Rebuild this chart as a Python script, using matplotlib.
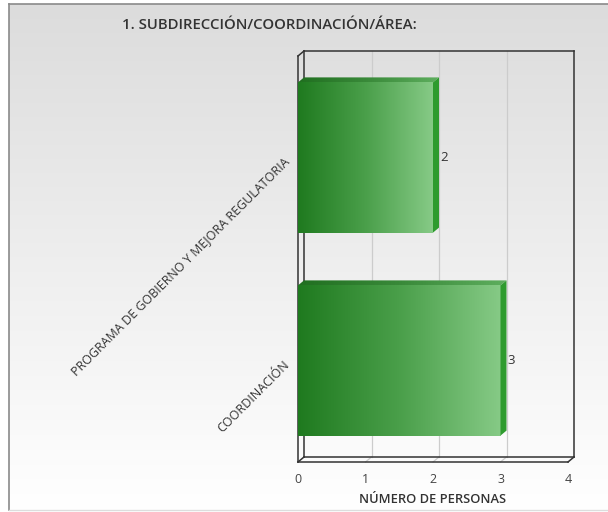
import matplotlib
matplotlib.use('Agg')
import matplotlib.pyplot as plt
import numpy as np
from matplotlib.patches import Polygon
from matplotlib.colors import LinearSegmentedColormap

# ---- data ----
categories = ["COORDINACIÓN", "PROGRAMA DE GOBIERNO Y MEJORA REGULATORIA"]
values = [3, 2]
x_ticks = [0, 1, 2, 3, 4]
title = "1. SUBDIRECCIÓN/COORDINACIÓN/ÁREA:"
xlabel = "NÚMERO DE PERSONAS"

plt.rcParams['font.family'] = ['Open Sans', 'DejaVu Sans']

W, H = 608, 512
fig = plt.figure(figsize=(W / 100, H / 100), dpi=100)
fig.patch.set_facecolor('white')

# background panel with vertical gradient
bg = fig.add_axes([0, 0, 1, 1])
bg.set_xlim(0, W)
bg.set_ylim(H, 0)
bg.axis('off')
grad = np.linspace(0, 1, 256).reshape(-1, 1)
cmap_bg = LinearSegmentedColormap.from_list('bg', ['#dcdcdc', '#eeeeee', '#ffffff'])
bg.imshow(grad, extent=[9, W, 510, 4], cmap=cmap_bg, aspect='auto', zorder=0)
bg.plot([9, 9], [4, 510], color='#8a8a8a', lw=1.2, zorder=1)
bg.plot([9, W], [4, 4], color='#8a8a8a', lw=1.2, zorder=1)
bg.plot([9, W], [510, 510], color='#dddddd', lw=1, zorder=1)
bg.set_xlim(0, W)
bg.set_ylim(H, 0)

bg.text(269, 25, title, ha='center', va='center', fontsize=10.7,
        fontweight='semibold', color='#333333')

# main axes = front frame
x0p, x1p, ytop, ybot = 298, 568, 56, 462
ax = fig.add_axes([x0p / W, (H - ybot) / H, (x1p - x0p) / W, (ybot - ytop) / H])
ax.patch.set_visible(False)
for s in ax.spines.values():
    s.set_visible(False)
xmin, xmax = 0, 4
ymin, ymax = -0.5, len(categories) - 0.5
dxd = 6 * (xmax - xmin) / (x1p - x0p)
dyd = 5 * (ymax - ymin) / (ybot - ytop)

frame = dict(color='#333333', lw=1.1, zorder=2, clip_on=False)
# back wall
ax.plot([xmin + dxd, xmin + dxd], [ymin + dyd, ymax + dyd], **frame)
ax.plot([xmin + dxd, xmax + dxd], [ymax + dyd, ymax + dyd], **frame)
ax.plot([xmax + dxd, xmax + dxd], [ymin + dyd, ymax + dyd], **frame)
ax.plot([xmin + dxd, xmax + dxd], [ymin + dyd, ymin + dyd], **frame)
# front edges
ax.plot([xmin, xmin], [ymin, ymax], **frame)
ax.plot([xmin, xmax], [ymin, ymin], **frame)
ax.plot([xmin, xmin + dxd], [ymax, ymax + dyd], **frame)
ax.plot([xmax, xmax + dxd], [ymin, ymin + dyd], **frame)
ax.plot([xmin, xmin + dxd], [ymin, ymin + dyd], **frame)
# gridlines
for t in x_ticks[1:-1]:
    ax.plot([t + dxd, t + dxd], [ymin + dyd, ymax + dyd], color='#cccccc', lw=0.9,
            zorder=1, clip_on=False)
    ax.plot([t, t + dxd], [ymin, ymin + dyd], color='#cccccc', lw=0.9,
            zorder=1, clip_on=False)

cmap_front = LinearSegmentedColormap.from_list('front', ['#1f7a1f', '#4a9f4a', '#86ca86'])
cmap_top = LinearSegmentedColormap.from_list('top', ['#206f20', '#3a8a3a', '#5eae5e'])
hgrad = np.linspace(0, 1, 256).reshape(1, -1)
bh = 0.74
for i, v in enumerate(values):
    y0, y1 = i - bh / 2, i + bh / 2
    # front face
    ax.imshow(hgrad, extent=[0, v, y0, y1], cmap=cmap_front, aspect='auto',
              zorder=3, interpolation='bilinear')
    # top face
    top = Polygon([(0, y1), (v, y1), (v + dxd, y1 + dyd), (dxd, y1 + dyd)],
                  closed=True, facecolor='none', edgecolor='none')
    ax.add_patch(top)
    im = ax.imshow(hgrad, extent=[0, v + dxd, y1, y1 + dyd], cmap=cmap_top,
                   aspect='auto', zorder=3, interpolation='bilinear')
    im.set_clip_path(top)
    # side face
    side = Polygon([(v, y0), (v + dxd, y0 + dyd), (v + dxd, y1 + dyd), (v, y1)],
                   closed=True, facecolor='#2e9b2e', edgecolor='none', zorder=3)
    ax.add_patch(side)
    ax.text(v + dxd + 0.02, i, str(v), ha='left', va='center', fontsize=9.5,
            color='#333333', zorder=4)

ax.set_xlim(xmin, xmax)
ax.set_ylim(ymin, ymax)
ax.set_xticks(x_ticks)
ax.set_xticklabels([str(t) for t in x_ticks], fontsize=9, color='#444444')
ax.tick_params(axis='x', length=0, pad=8)
ax.set_yticks([])
for i, c in enumerate(categories):
    ax.text(-0.16, i - 0.01, c, rotation=45, rotation_mode='anchor', ha='right',
            va='center', fontsize=9, color='#333333')
ax.set_xlabel(xlabel, fontsize=9.3, fontweight='semibold', color='#333333', labelpad=5)

fig.savefig('out.png', dpi=100)
